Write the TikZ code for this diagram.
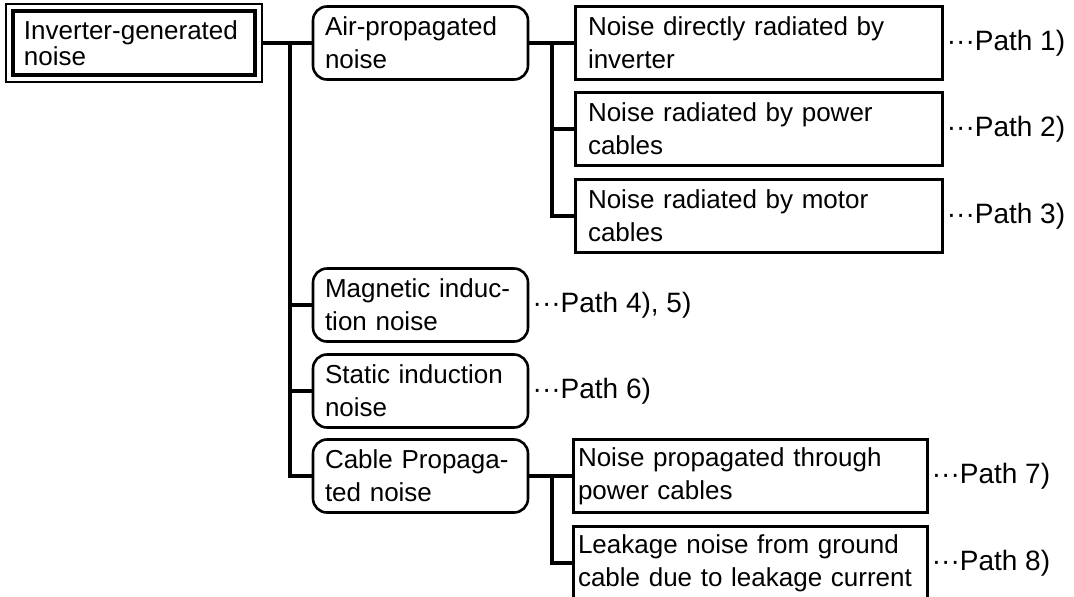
\documentclass[tikz,border=0pt]{standalone}
\usepackage{fontspec}
\setmainfont{Liberation Sans}
\tikzset{
  txt/.style={font=\fontsize{13}{16.5}\selectfont},
  link/.style={line width=2pt},
  rootbox/.style={draw, line width=1.2pt, align=left, text width=110pt, inner xsep=9pt,
    minimum height=39pt, font=\fontsize{13}{12}\selectfont},
  groupbox/.style={txt, draw, rounded corners=7pt, line width=1.3pt, align=left,
    text width=95.5pt, inner xsep=6pt, minimum height=36.5pt},
  pathbox/.style={txt, draw, line width=1.5pt, align=left,
    text width=170.5pt, inner xsep=6.5pt, minimum height=36.5pt},
  pathnote/.style={font=\fontsize{14}{16.5}\selectfont, anchor=west, inner sep=1.5pt}
}
\begin{document}
\begin{tikzpicture}[x=0.5pt,y=-0.5pt]
    \useasboundingbox (0,0) rectangle (1074,596);

    % Source
    \node[rootbox] (root) at (134,43) {Inverter-generated\\noise};
    \draw[line width=2pt] ([shift={(8,8)}]root.north west) rectangle ([shift={(-8,-8)}]root.south east);

    % Propagation types
    \node[groupbox] (air) at (420.5,43) {Air-propagated\\noise};
    \node[groupbox] (magn) at (420.5,305) {Magnetic induc-\\tion noise};
    \node[groupbox] (stat) at (420.5,391) {Static induction\\noise};
    \node[groupbox] (cable) at (420.5,476) {Cable Propaga-\\ted noise};

    % Paths
    \node[pathbox] (n1) at (758.5,43) {Noise directly radiated by\\inverter};
    \node[pathbox] (n2) at (758.5,129) {Noise radiated by power\\cables};
    \node[pathbox] (n3) at (758.5,216) {Noise radiated by motor\\cables};
    \node[pathbox, inner xsep=2.5pt, text width=172pt] (n7) at (750,476) {Noise propagated through\\power cables};
    \node[pathbox, inner xsep=2.5pt, text width=172pt, minimum height=37pt] (n8) at (750,563) {Leakage noise from ground\\cable due to leakage current};

    % Path numbers
    \node[pathnote] (p1) at (n1.east) {···Path 1)};
    \node[pathnote] (p2) at (n2.east) {···Path 2)};
    \node[pathnote] (p3) at (n3.east) {···Path 3)};
    \node[pathnote] (p45) at (magn.east) {···Path 4), 5)};
    \node[pathnote] (p6) at (stat.east) {···Path 6)};
    \node[pathnote] (p7) at (n7.east) {···Path 7)};
    \node[pathnote] (p8) at (n8.east) {···Path 8)};

    % Tree lines
    \coordinate (t0) at (290,0);
    \coordinate (b1) at (552,0);
    \draw[link] (root.east) -- (air.west);
    \draw[link] (t0 |- air.west) |- (cable.west);
    \draw[link] (t0 |- magn.west) -- (magn.west);
    \draw[link] (t0 |- stat.west) -- (stat.west);
    \draw[link] (air.east) -- (n1.west);
    \draw[link] (b1 |- n1.west) |- (n3.west);
    \draw[link] (b1 |- n2.west) -- (n2.west);
    \draw[link] (cable.east) -- (n7.west);
    \draw[link] (b1 |- n7.west) |- (n8.west);
\end{tikzpicture}
\end{document}
